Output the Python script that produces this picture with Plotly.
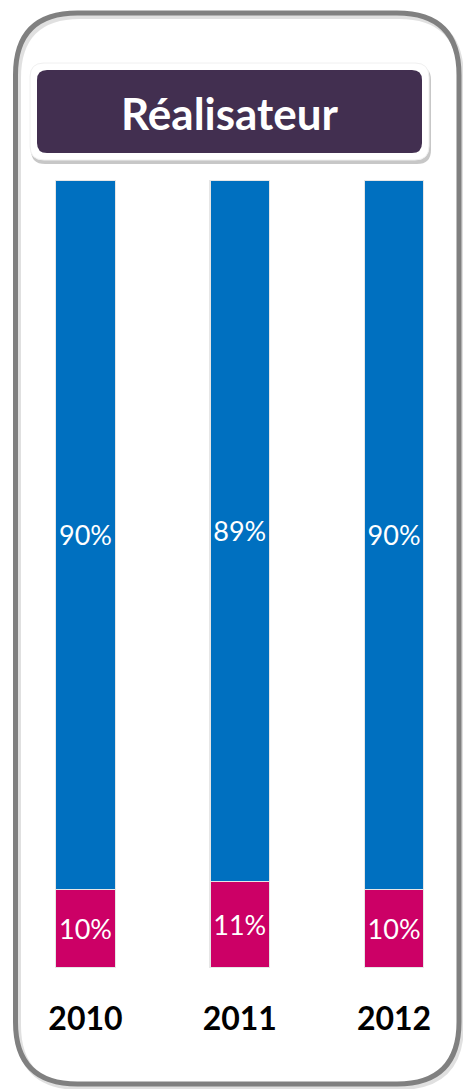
import plotly.graph_objects as go

years = ["2010", "2011", "2012"]
women = [10, 11, 10]
men = [90, 89, 90]
title_text = "Réalisateur"

W, H = 463, 1089
TOP, BOT = 180, 968  # plot area pixel bounds

def xp(px):
    return px / W

def yp(py):
    return (BOT - py) / (BOT - TOP)

def rrect(x0, y0, x1, y1, r):
    # rounded rectangle path in paper coordinates, inputs in pixels
    pts = [
        f"M {xp(x0 + r)} {yp(y0)}",
        f"L {xp(x1 - r)} {yp(y0)}",
        f"Q {xp(x1)} {yp(y0)} {xp(x1)} {yp(y0 + r)}",
        f"L {xp(x1)} {yp(y1 - r)}",
        f"Q {xp(x1)} {yp(y1)} {xp(x1 - r)} {yp(y1)}",
        f"L {xp(x0 + r)} {yp(y1)}",
        f"Q {xp(x0)} {yp(y1)} {xp(x0)} {yp(y1 - r)}",
        f"L {xp(x0)} {yp(y0 + r)}",
        f"Q {xp(x0)} {yp(y0)} {xp(x0 + r)} {yp(y0)}",
        "Z",
    ]
    return " ".join(pts)

fig = go.Figure()
fig.add_trace(go.Bar(
    x=years, y=women, name="Femmes",
    marker=dict(color="#CC0066", line=dict(color="#e6e6e6", width=1.2)),
    text=[f"{v}%" for v in women], textposition="inside", insidetextanchor="middle",
    constraintext="none",
    textfont=dict(family="Lato", size=27, color="white"),
    width=0.385,
))
fig.add_trace(go.Bar(
    x=years, y=men, name="Hommes",
    marker=dict(color="#0070C0", line=dict(color="#e6e6e6", width=1.2)),
    text=[f"{v}%" for v in men], textposition="inside", insidetextanchor="middle",
    constraintext="none",
    textfont=dict(family="Lato", size=27, color="white"),
    width=0.385,
))

shapes = []
# outer frame shadow + frame
shapes.append(dict(type="path", xref="paper", yref="paper", layer="below",
                   path=rrect(18, 16, 461, 1087, 62),
                   line=dict(color="rgba(0,0,0,0.12)", width=6)))
shapes.append(dict(type="path", xref="paper", yref="paper", layer="below",
                   path=rrect(15.5, 13, 459, 1084, 62),
                   line=dict(color="#808080", width=5), fillcolor="rgba(0,0,0,0)"))
# title box shadow, white border, dark fill
shapes.append(dict(type="path", xref="paper", yref="paper", layer="below",
                   path=rrect(31, 66, 431, 164, 14),
                   fillcolor="rgba(0,0,0,0.22)", line=dict(width=0)))
shapes.append(dict(type="path", xref="paper", yref="paper", layer="below",
                   path=rrect(30, 63, 429, 160, 14),
                   fillcolor="white", line=dict(color="#f0f0f0", width=1)))
shapes.append(dict(type="path", xref="paper", yref="paper", layer="below",
                   path=rrect(37, 70, 422, 153, 10),
                   fillcolor="#422F50", line=dict(width=0)))

fig.update_layout(
    width=W, height=H,
    barmode="stack",
    showlegend=False,
    paper_bgcolor="white", plot_bgcolor="rgba(0,0,0,0)",
    margin=dict(l=0, r=0, t=TOP, b=H - BOT, pad=0),
    shapes=shapes,
    annotations=[dict(text=f"<b>{title_text}</b>", xref="paper", yref="paper",
                      x=xp(230), y=yp(113), xanchor="center", yanchor="middle",
                      showarrow=False, font=dict(family="Lato", size=44, color="white"))],
    xaxis=dict(range=[-0.554, 2.447], showgrid=False, zeroline=False, showline=False,
               ticks="outside", ticklen=23, tickcolor="rgba(0,0,0,0)",
               tickfont=dict(family="Lato", size=32, color="black"),
               tickprefix="<b>", ticksuffix="</b>"),
    yaxis=dict(range=[0, 100], visible=False),
)

fig.write_html("out.html", config={"displayModeBar": False},
               post_script="document.body.style.margin='0';document.body.style.padding='0';")
